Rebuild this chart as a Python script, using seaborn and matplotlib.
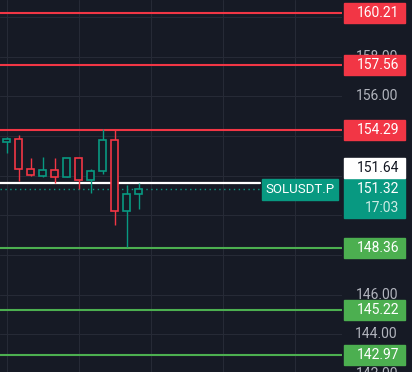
import matplotlib
matplotlib.use("Agg")
import matplotlib.pyplot as plt
import matplotlib.transforms as mtransforms
from matplotlib.patches import Rectangle
import numpy as np
import pandas as pd
import seaborn as sns

# ---------------- data ----------------
opens = [153.72, 153.87, 152.36, 152.00, 152.31, 151.95, 152.91, 151.80, 152.26, 153.82, 150.24, 151.10]
closes = [153.87, 152.36, 152.05, 152.31, 151.95, 152.91, 151.80, 152.26, 153.82, 150.24, 151.10, 151.32]
highs = [153.95, 154.04, 152.88, 152.93, 152.88, 152.91, 152.91, 152.32, 154.33, 154.34, 151.52, 151.62]
lows = [153.12, 151.73, 151.99, 151.93, 151.63, 151.95, 151.31, 151.13, 152.10, 149.53, 148.43, 150.32]

red_levels = [160.21, 157.56, 154.29]
green_levels = [148.36, 145.22, 142.97]
white_level = 151.64
current_price = 151.32
countdown = "17:03"
symbol = "SOLUSDT.P"
price_ticks = [142, 144, 146, 148, 150, 152, 154, 156, 158, 160]
# tick labels not fully hidden behind the price boxes
shown_tick_labels = [142, 144, 146, 148, 150, 156, 158]
grid_x = [0, 6, 12, 18, 24]

df = pd.DataFrame({"open": opens, "close": closes, "high": highs, "low": lows})
df["idx"] = np.arange(len(df))

# ---------------- style ----------------
BG = "#161a25"
GRID = "#262a36"
RED = "#f23645"
TEAL = "#089981"
GREEN = "#4caf50"
TXT = "#b2b5be"

sns.set_theme(style="dark", rc={
    "axes.facecolor": BG, "figure.facecolor": BG,
    "axes.edgecolor": BG, "savefig.facecolor": BG,
})
plt.rcParams["font.family"] = ["Roboto", "DejaVu Sans"]

W, H = 412, 372
fig = plt.figure(figsize=(W / 100, H / 100), dpi=100)
plot_w = 342
ax = fig.add_axes([0, 0, plot_w / W, 1])
axr = fig.add_axes([plot_w / W, 0, (W - plot_w) / W, 1])

ymin, ymax = 142.11, 160.85
px_per_unit = H / (ymax - ymin)
ax.set_ylim(ymin, ymax)
axr.set_ylim(ymin, ymax)
x0 = -6.5 / 12
ax.set_xlim(x0, x0 + plot_w / 12)
axr.set_xlim(0, W - plot_w)
for a in (ax, axr):
    a.set_xticks([]); a.set_yticks([])
    for s in a.spines.values():
        s.set_visible(False)
    a.set_facecolor(BG)

# grid
for p in price_ticks:
    ax.axhline(p, color=GRID, lw=0.8, zorder=0)
for gx in grid_x:
    ax.axvline(gx, color=GRID, lw=0.8, zorder=0)

# level lines
for lv in red_levels:
    ax.axhline(lv, color=RED, lw=1.5, zorder=1)
for lv in green_levels:
    ax.axhline(lv, color=GREEN, lw=1.5, zorder=1)

# white line + dotted current price line
ax.axhline(white_level, xmin=0, xmax=260 / plot_w, color="white", lw=1.6, zorder=1)
ax.axhline(current_price, xmin=0, xmax=262 / plot_w, color=TEAL, lw=1.0,
           ls=(0, (1, 2.5)), zorder=1)

# candles
colors = [TEAL if c >= o else RED for o, c in zip(df["open"], df["close"])]
ax.vlines(df["idx"], df["low"], df["high"], colors=colors, lw=1.0, zorder=2)
bottoms = np.minimum(df["open"], df["close"])
heights = np.abs(df["close"] - df["open"])
ax.bar(df["idx"], heights, bottom=bottoms, width=0.62, color=BG,
       edgecolor=colors, linewidth=1.2, zorder=3)

# symbol label
unit = 1 / px_per_unit
trans = mtransforms.blended_transform_factory(ax.transAxes, ax.transData)
sym_top = current_price + 10.5 * unit
ax.add_patch(Rectangle((262 / plot_w, sym_top - 21 * unit), 76 / plot_w, 21 * unit,
                       transform=trans, color=TEAL, zorder=5, clip_on=False))
ax.text(300 / plot_w, sym_top - 10.5 * unit, symbol, transform=trans, color="white",
        fontsize=9.5, ha="center", va="center", zorder=6)

# price axis tick labels
for p in shown_tick_labels:
    axr.text(56, p, f"{p:.2f}", color=TXT, fontsize=10, ha="right", va="center",
             zorder=1, clip_on=False)

# price boxes
bx, bw = 2, 61
box_h = 20 * unit


def box(center, color, label, tcolor="white"):
    axr.add_patch(Rectangle((bx, center - box_h / 2), bw, box_h, color=color, zorder=3))
    axr.text(57, center, label, color=tcolor, fontsize=10, ha="right", va="center", zorder=4)


for lv in red_levels:
    box(lv, RED, f"{lv:.2f}")
for lv in green_levels:
    box(lv, GREEN, f"{lv:.2f}")

# current price box (two lines)
cur_top = current_price + 10.5 * unit
cur_h = 39 * unit
axr.add_patch(Rectangle((bx, cur_top - cur_h), bw, cur_h, color=TEAL, zorder=3))
axr.text(57, current_price, f"{current_price:.2f}", color="white", fontsize=10,
         ha="right", va="center", zorder=4)
axr.text(57, current_price - 18.5 * unit, countdown, color="#cdebe4", fontsize=10,
         ha="right", va="center", zorder=4)

# white level box, stacked above the current price box
white_center = cur_top + 1 * unit + box_h / 2
axr.add_patch(Rectangle((bx, white_center - box_h / 2), bw, box_h, color="white", zorder=3))
axr.text(57, white_center, f"{white_level:.2f}", color="#131722", fontsize=10,
         ha="right", va="center", zorder=4)

fig.savefig("out.png", dpi=100, facecolor=BG)
